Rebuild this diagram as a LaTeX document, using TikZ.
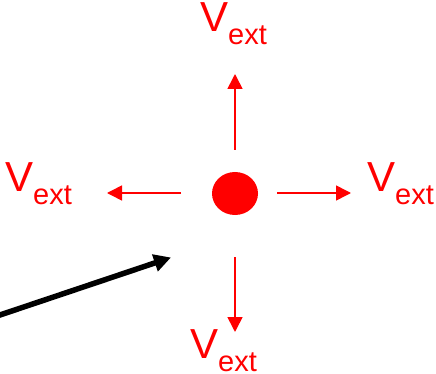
\documentclass[tikz,border=0pt]{standalone}
\usepackage{fontspec}
\setmainfont{Liberation Sans}
\usetikzlibrary{arrows.meta,shapes.geometric}
\definecolor{vred}{RGB}{255,0,0}
\newcommand{\vextlabel}{{\fontsize{42}{42}\selectfont V\raisebox{-13pt}{\fontsize{29}{29}\selectfont ext}}}
\tikzset{
  vlabel/.style={text=vred, inner sep=0pt, anchor=base west},
  redarrow/.style={draw=vred, line width=1.6pt, -{Triangle[length=15pt,width=15pt]}},
  blackarrow/.style={draw=black, line width=5.5pt, -{Triangle[length=17pt,width=17pt]}},
  dotstyle/.style={ellipse, fill=vred, draw=none, minimum width=46pt, minimum height=43pt, inner sep=0pt}
}
\begin{document}
\begin{tikzpicture}[x=1pt,y=-1pt]
\useasboundingbox (0,0) rectangle (436,374);
\node[dotstyle] (dot) at (235,193.5) {};
\node[vlabel] (top) at (200,32) {\vextlabel};
\node[vlabel] (left) at (5,192) {\vextlabel};
\node[vlabel] (right) at (367,192) {\vextlabel};
\node[vlabel] (bottom) at (190,358) {\vextlabel};
\coordinate (us) at (235,150);
\coordinate (ue) at (235,74);
\coordinate (ls) at (181,193);
\coordinate (le) at (107,193);
\coordinate (rs) at (277,193);
\coordinate (re) at (351,193);
\coordinate (ds) at (235,257);
\coordinate (de) at (235,332);
\coordinate (bs) at (-6,317);
\coordinate (be) at (171,257.5);
\draw[redarrow] (us) -- (ue);
\draw[redarrow] (ls) -- (le);
\draw[redarrow] (rs) -- (re);
\draw[redarrow] (ds) -- (de);
\draw[blackarrow] (bs) -- (be);
\end{tikzpicture}
\end{document}
